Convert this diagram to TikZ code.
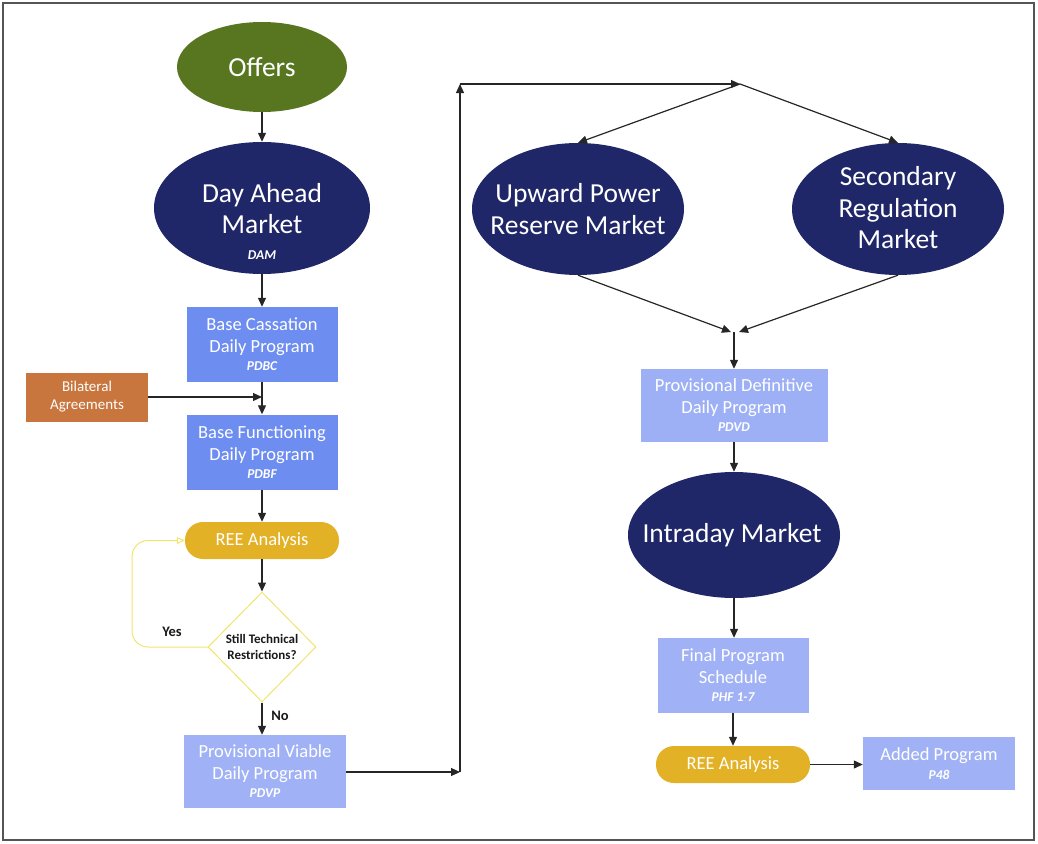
\documentclass[tikz,border=0pt]{standalone}
\usepackage{fontspec}
\setmainfont{Carlito}
\usetikzlibrary{shapes.geometric,arrows.meta}
\definecolor{navy}{RGB}{31,39,104}
\definecolor{olivegreen}{RGB}{88,118,32}
\definecolor{boxblue}{RGB}{110,141,240}
\definecolor{lightblue}{RGB}{160,178,245}
\definecolor{bilat}{RGB}{200,118,62}
\definecolor{goldree}{RGB}{227,177,38}
\definecolor{paleyellow}{RGB}{240,228,110}
\definecolor{framegray}{RGB}{85,85,85}
\newcommand\progcode[2][-4pt]{\\[#1]{\fontsize{13.5}{15}\selectfont\bfseries\itshape #2}}
\begin{document}
\begin{tikzpicture}[x=1pt,y=-1pt,
  market/.style={ellipse, fill=navy, inner sep=0pt, text=white, align=center,
    font=\fontsize{27.5}{31.5}\selectfont},
  mtext/.style={inner sep=0pt, align=center, text=white, font=\fontsize{27.5}{31.5}\selectfont},
  prog/.style={rectangle, fill=boxblue, inner sep=0pt, text=white, align=center,
    font=\fontsize{18.5}{22}\selectfont},
  lprog/.style={prog, fill=lightblue},
  reebox/.style={rectangle, rounded corners=18pt, fill=goldree, inner sep=0pt, text=white,
    align=center, font=\fontsize{18.5}{22}\selectfont, minimum width=154pt, minimum height=37pt},
  arr/.style={-{Triangle[length=9pt,width=8pt]}, line width=1.2pt, draw=black!85},
  yesline/.style={-{Triangle[open,length=8pt,width=7pt]}, line width=1pt, draw=paleyellow},
  smalltxt/.style={inner sep=0pt, align=center, text=black!90, font=\fontsize{13}{16.5}\selectfont\bfseries},
]
\useasboundingbox (0,0) rectangle (1038,843);
\draw[framegray, line width=2pt] (3,3) rectangle (1034,840);

% left column
\node[ellipse, fill=olivegreen, inner sep=0pt, minimum width=170pt, minimum height=90pt,
  text=white, font=\fontsize{27.5}{31.5}\selectfont] (offers) at (262,67) {Offers};
\node[market, minimum width=216pt, minimum height=132pt] (dam) at (262,208) {};
\node[mtext] (damtxt) at (262,221) {Day Ahead\\Market\progcode[-6pt]{DAM}};
\node[prog, minimum width=151pt, minimum height=75pt] (pdbc) at (262,344.5)
  {Base Cassation\\Daily Program\progcode{PDBC}};
\node[prog, fill=bilat, minimum width=122pt, minimum height=49pt, font=\fontsize{15}{18}\selectfont]
  (bilat) at (87,397) {Bilateral\\Agreements};
\node[prog, minimum width=151pt, minimum height=75pt] (pdbf) at (262,452)
  {Base Functioning\\Daily Program\progcode{PDBF}};
\node[reebox] (ree1) at (262,540.5) {REE Analysis};
\node[diamond, draw=paleyellow, line width=1pt, inner sep=0pt, minimum width=108pt, minimum height=110pt]
  (dia) at (262,647) {};
\node[smalltxt] (diatxt) at (262,647) {Still Technical\\Restrictions?};
\node[lprog, minimum width=162pt, minimum height=73pt] (pdvp) at (265,771.5)
  {Provisional Viable\\Daily Program\progcode{PDVP}};
\node[smalltxt, font=\fontsize{14.5}{17}\selectfont\bfseries] (yes) at (172,632) {Yes};
\node[smalltxt, font=\fontsize{14.5}{17}\selectfont\bfseries] (no) at (280,716) {No};

% right part
\node[market, minimum width=212pt, minimum height=132pt] (uprm) at (578,209) {};
\node[mtext] (uprmtxt) at (578,209) {Upward Power\\Reserve Market};
\node[market, minimum width=212pt, minimum height=132pt] (srm) at (898,209) {};
\node[mtext] (srmtxt) at (898,208) {Secondary\\Regulation\\Market};
\node[lprog, fill=lightblue!95!boxblue, minimum width=187pt, minimum height=73pt] (pdvd) at (734,405.5)
  {Provisional Definitive\\Daily Program\progcode{PDVD}};
\node[market, minimum width=212pt, minimum height=126pt] (intra) at (734,535) {};
\node[mtext] (intratxt) at (732,535) {Intraday Market};
\node[lprog, minimum width=151pt, minimum height=75pt] (fps) at (733,675.5)
  {Final Program\\Schedule\progcode{PHF 1-7}};
\node[reebox] (ree2) at (733,764.5) {REE Analysis};
\node[lprog, minimum width=152pt, minimum height=53pt] (added) at (939,763.5)
  {Added Program\progcode[-3pt]{P48}};

\coordinate (bj) at (262,397);
\coordinate (c1) at (460,772);
\coordinate (c2) at (460,84);
\coordinate (c3) at (740,84);
\coordinate (m1) at (731,332);
\coordinate (m2) at (739,332);
\coordinate (mm) at (734,332);
\coordinate (yl) at (132,647);
\coordinate (yt) at (132,540.5);

% connectors
\draw[arr] (offers) -- (dam);
\draw[arr] (dam) -- (pdbc);
\draw[arr] (pdbc) -- (pdbf);
\draw[arr] (bilat.east) -- (bj);
\draw[arr] (pdbf) -- (ree1);
\draw[arr] (ree1) -- (dia);
\draw[arr] (dia.south) -- (dia.south |- pdvp.north);
\draw[yesline, rounded corners=16pt] (dia.west) -- (yl) -- (yt) -- (ree1.west);
\draw[arr] (pdvp.east |- c1) -- (c1);
\draw[arr] (c1) -- (c2);
\draw[arr] (c2) -- (c3);
\draw[arr] (c3) -- (uprm.north);
\draw[arr] (c3) -- (srm.north);
\draw[arr] (uprm.south) -- (m1);
\draw[arr] (srm.south) -- (m2);
\draw[arr] (mm) -- (pdvd.north);
\draw[arr] (pdvd) -- (intra);
\draw[arr] (intra.south) -- (intra.south |- fps.north);
\draw[arr] (fps) -- (ree2);
\draw[arr] (ree2.east) -- (ree2.east -| added.west);
\end{tikzpicture}
\end{document}
